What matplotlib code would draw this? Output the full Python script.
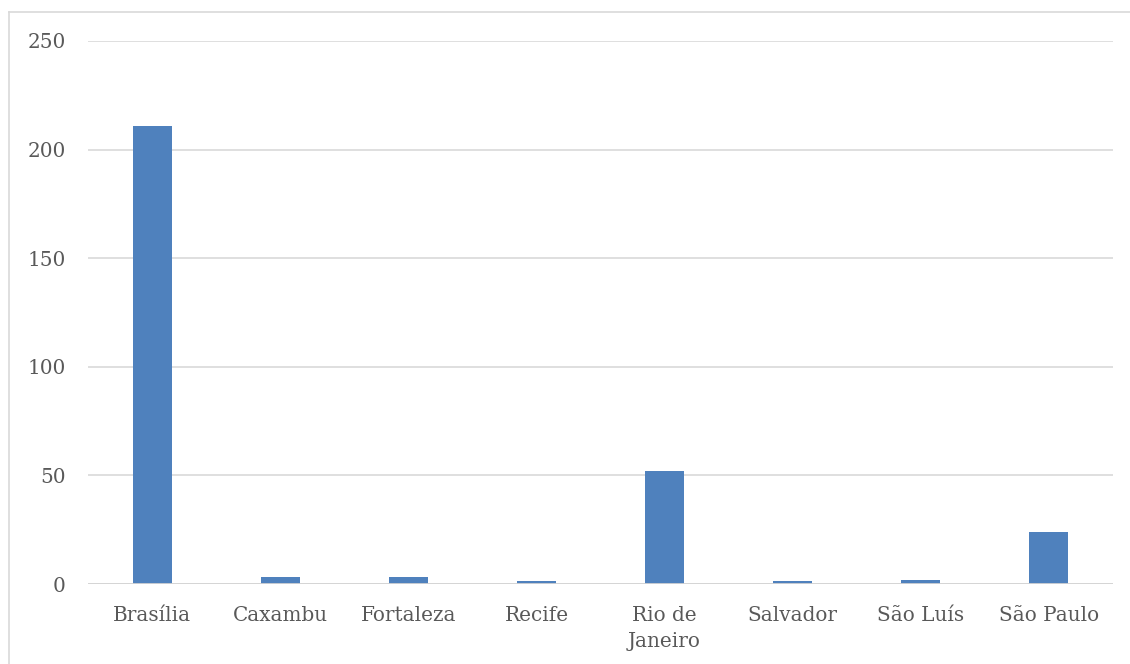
import numpy as np
import matplotlib.pyplot as plt
from matplotlib.lines import Line2D

# cities and counts
cities = ['Brasília', 'Caxambu', 'Fortaleza', 'Recife', 'Rio de\nJaneiro',
          'Salvador', 'São Luís', 'São Paulo']
counts = [211, 3, 3, 1.5, 52, 1.5, 2, 24]
yticks = [0, 50, 100, 150, 200, 250]

plt.rcParams['font.family'] = ['DejaVu Serif']

fig = plt.figure(figsize=(11.3, 6.64), dpi=100)
ax = fig.add_axes([88/1130, 1-584/664, (1113-88)/1130, (584-41)/664])

x = np.arange(len(cities))
ax.bar(x, counts, width=0.305, color='#4f81bd', zorder=3)

ax.set_xlim(-0.5, len(cities)-0.5)
ax.set_ylim(0, 250)
ax.set_yticks(yticks)
ax.set_xticks(x, cities)
for lab in ax.get_xticklabels():
    lab.set_linespacing(1.5)
ax.grid(axis='y', color='#d9d9d9', lw=1.2, zorder=0)
ax.axhline(0, color='#d4d4d4', lw=2, zorder=4)
for s in ax.spines.values():
    s.set_visible(False)
ax.tick_params(axis='both', length=0, labelsize=14.4, labelcolor='#595959')
ax.tick_params(axis='y', pad=16)
ax.tick_params(axis='x', pad=15.5)

# outer chart frame (cut off at right/bottom)
fx, fy = 8.5/1130, 1-11.5/664
fig.add_artist(Line2D([fx, 1], [fy, fy], transform=fig.transFigure,
                      color='#d9d9d9', lw=1.2))
fig.add_artist(Line2D([fx, fx], [0, fy], transform=fig.transFigure,
                      color='#d9d9d9', lw=1.2))

fig.savefig('out.png', dpi=100)
